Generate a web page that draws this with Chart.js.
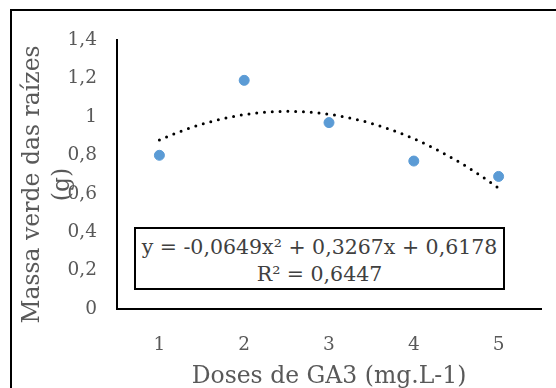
<!DOCTYPE html>
<html>
<head>
<meta charset="utf-8">
<script src="https://cdn.jsdelivr.net/npm/chart.js@4.4.1/dist/chart.umd.min.js"></script>
<style>
  body { margin: 0; background: #fff; }
  #wrap { position: relative; width: 556px; height: 388px; overflow: hidden; }
  #myChart { position: absolute; left: 0; top: 0; }
  #frame { position: absolute; left: 10px; top: 9px; width: 600px; height: 420px; border: 2px solid #000; }
  #eq {
    position: absolute; left: 134px; top: 227px; width: 371px; height: 63px; box-sizing: border-box;
    border: 2px solid #000; background: #fff; text-align: center;
    font: 20.5px "DejaVu Serif"; color: #404040; line-height: 27px; padding-top: 5px;
    white-space: nowrap;
  }
</style>
</head>
<body>
<div id="wrap">
  <div id="frame"></div>
  <canvas id="myChart" width="556" height="388"></canvas>
  <div id="eq">y = -0,0649x² + 0,3267x + 0,6178<br>R² = 0,6447</div>
</div>
<script>
// dados
const doses = [1, 2, 3, 4, 5];
const massa = [0.80, 1.19, 0.97, 0.77, 0.69];
const yTicks = [0, 0.2, 0.4, 0.6, 0.8, 1, 1.2, 1.4];
const yTickLabels = ['0', '0,2', '0,4', '0,6', '0,8', '1', '1,2', '1,4'];
const trendCoef = [0.6178, 0.3267, -0.0649]; // c + b*x + a*x²
const xTitle = 'Doses de GA3 (mg.L-1)';
const yTitle = ['Massa verde das raízes', '(g)'];

const cinza = '#595959';
const fonte = 'DejaVu Serif';

// linha de tendência (polinomial de 2ª ordem)
let trend = [];
for (let i = 0; i <= 40; i++) {
    let x = doses[0] + i * (doses[doses.length - 1] - doses[0]) / 40;
    trend.push({ x: x, y: trendCoef[0] + trendCoef[1] * x + trendCoef[2] * x * x });
}

const yTitlePlugin = {
    id: 'yTitle',
    afterDraw(chart) {
        const ctx = chart.ctx;
        const area = chart.chartArea;
        ctx.save();
        ctx.fillStyle = cinza;
        ctx.font = '23.5px "' + fonte + '"';
        ctx.textAlign = 'center';
        ctx.textBaseline = 'middle';
        let cy = (area.top + area.bottom) / 2 + 10;
        ctx.translate(33, cy);
        ctx.rotate(-Math.PI / 2);
        ctx.fillText(yTitle[0], 0, 0);
        ctx.fillText(yTitle[1], 0, 30);
        ctx.restore();
    }
};

const ctx = document.getElementById('myChart');
new Chart(ctx, {
    type: 'scatter',
    data: {
        datasets: [{
            label: 'massa',
            data: doses.map((d, i) => ({ x: d, y: massa[i] })),
            backgroundColor: '#5B9BD5',
            borderColor: '#5B9BD5',
            pointRadius: 5,
            pointHoverRadius: 5,
            order: 1
        }, {
            label: 'tendencia',
            type: 'line',
            data: trend,
            borderColor: '#000',
            borderWidth: 3,
            borderDash: [0, 7.8],
            borderCapStyle: 'round',
            pointRadius: 0,
            fill: false,
            tension: 0,
            order: 2
        }]
    },
    options: {
        responsive: false,
        animation: false,
        events: [],
        layout: { padding: { left: 0, top: 40, right: 15, bottom: 0 } },
        plugins: { legend: { display: false }, tooltip: { enabled: false } },
        scales: {
            x: {
                type: 'linear',
                min: 0.5,
                max: 5.5,
                afterBuildTicks: s => { s.ticks = doses.map(v => ({ value: v })); },
                afterFit: s => { s.height = 79; },
                grid: { drawOnChartArea: false, drawTicks: false },
                border: { color: '#000', width: 2 },
                ticks: {
                    color: cinza,
                    padding: 25,
                    font: { family: fonte, size: 18.5 },
                    callback: v => String(v)
                },
                title: {
                    display: true,
                    text: xTitle,
                    color: cinza,
                    font: { family: fonte, size: 23.5, lineHeight: 1 },
                    padding: { top: 0, bottom: -1 }
                }
            },
            y: {
                min: 0,
                max: 1.4,
                afterBuildTicks: s => { s.ticks = yTicks.map(v => ({ value: v })); },
                afterFit: s => { s.width = 117; },
                grid: { drawOnChartArea: false, drawTicks: false },
                border: { color: '#000', width: 2 },
                ticks: {
                    color: cinza,
                    padding: 20,
                    font: { family: fonte, size: 18.5 },
                    callback: (v, i) => yTickLabels[i]
                }
            }
        }
    },
    plugins: [yTitlePlugin]
});
</script>
</body>
</html>
